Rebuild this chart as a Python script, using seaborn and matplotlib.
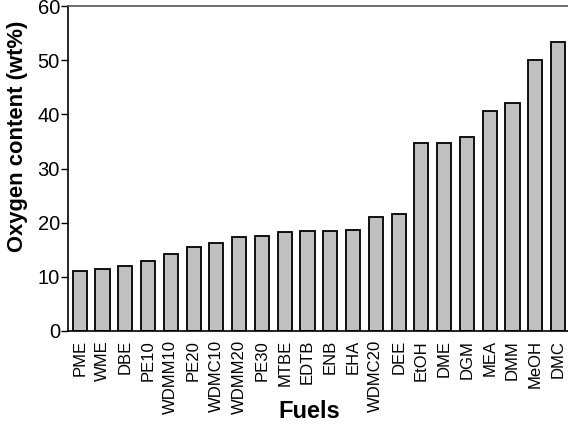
import pandas as pd
import matplotlib
matplotlib.use('Agg')
import matplotlib.pyplot as plt
import seaborn as sns

fuels = ['PME', 'WME', 'DBE', 'PE10', 'WDMM10', 'PE20', 'WDMC10', 'WDMM20',
         'PE30', 'MTBE', 'EDTB', 'ENB', 'EHA', 'WDMC20', 'DEE', 'EtOH',
         'DME', 'DGM', 'MEA', 'DMM', 'MeOH', 'DMC']
oxygen = [11.0, 11.4, 12.0, 13.0, 14.2, 15.5, 16.2, 17.3, 17.6, 18.2, 18.4,
          18.4, 18.6, 21.1, 21.6, 34.7, 34.8, 35.8, 40.6, 42.1, 50.0, 53.3]

df = pd.DataFrame({'Fuel': fuels, 'Oxygen': oxygen})

sns.set_style('white')
plt.rcParams['font.family'] = ['Liberation Sans', 'DejaVu Sans']
plt.rcParams['text.color'] = 'black'
plt.rcParams['xtick.color'] = 'black'
plt.rcParams['ytick.color'] = 'black'

fig = plt.figure(figsize=(5.68, 4.25), dpi=100)
ax = fig.add_axes([68.3 / 568, 1 - 331 / 425, (569.5 - 68.3) / 568, 325 / 425])

sns.barplot(data=df, x='Fuel', y='Oxygen', color='#c0c0c0', saturation=1,
            edgecolor='black', linewidth=1.3, width=0.62, ax=ax)

ax.set_xlim(-0.5, len(fuels) - 0.5)
ax.set_ylim(0, 60)
ax.set_yticks(range(0, 61, 10))
ax.set_xlabel('')
ax.set_ylabel('')

ax.tick_params(axis='y', which='both', left=True, length=5, width=1,
               pad=1, labelsize=14.5, color='black', labelcolor='black',
               direction='out')
ax.tick_params(axis='x', bottom=False, labelsize=12, pad=3, rotation=90,
               labelcolor='black')
for lab in ax.get_xticklabels():
    lab.set_va('top')

for s in ['left', 'bottom']:
    ax.spines[s].set_color('black')
    ax.spines[s].set_linewidth(1.2)
ax.spines['top'].set_color('#555555')
ax.spines['top'].set_linewidth(1.2)
ax.spines['right'].set_visible(False)

fig.text(18 / 568, 1 - 136 / 425, 'Oxygen content (wt%)', rotation=90,
         ha='center', va='center', fontsize=15.8, fontweight='bold')
fig.text(309 / 568, 1 - 412 / 425, 'Fuels', ha='center', va='center',
         fontsize=17, fontweight='bold')

fig.savefig('out.png', dpi=100)
